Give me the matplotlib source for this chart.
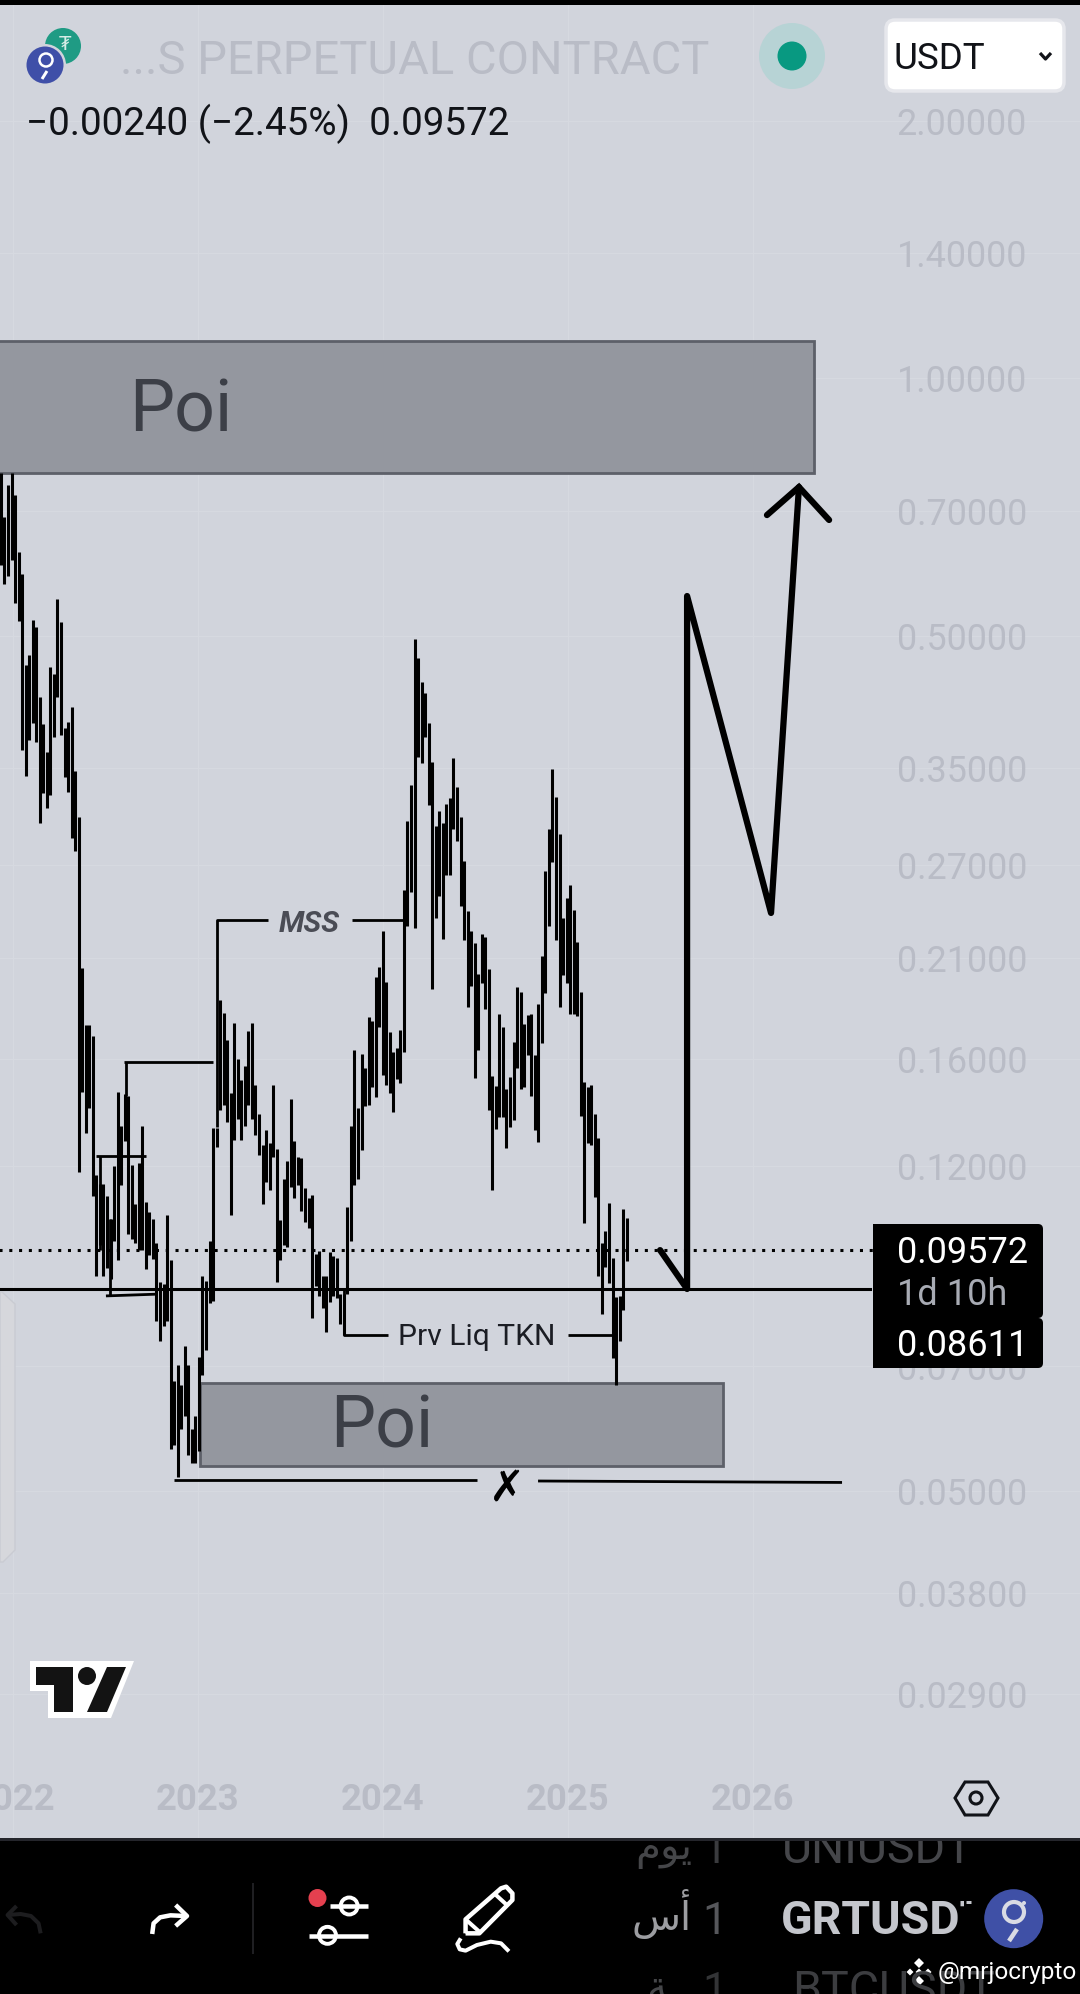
import matplotlib
matplotlib.use('Agg')
import numpy as np
import matplotlib.pyplot as plt
from matplotlib.patches import Rectangle, Circle, Polygon, FancyBboxPatch
from matplotlib.ticker import FixedLocator, FixedFormatter, NullLocator
from matplotlib.transforms import Bbox

plt.rcParams['font.family'] = ['Roboto', 'DejaVu Sans']

# weekly highs and lows, first bar is late 2021
first_bar = 2021.934
bars_per_year = 52.3
bar_high = [.776, .688, .7516, .776, .730, .6266, .591, .462, .475, .5226, .512, .4242, .3947, .366, .4594, .4516,
            .5522, .519, .3902, .3964, .4129, .3476, .3071, .2048, .1753, .1753, .1703, .1172, .1143, .1143, .1108,
            .1042, .1200, .1465, .1338, .1458, .1450, .1205, .1083, .1210, .1335, .1088, .1060, .1042, .0976, .0879,
            .0874, .1052, .0931, .0672, .0703, .0665, .0740, .0702, .0591, .0612, .0718, .0893, .0881, .0981, .1330,
            .1330, .1877, .1812, .1684, .1460, .1762, .1602, .1513, .1572, .1725, .1762, .1493, .1381, .1270, .1324,
            .1276, .1493, .1257, .1037, .1159, .1215, .1439, .1283, .1229, .1225, .1130, .1102, .1110, .0946, .0955,
            .0892, .0893, .0953, .0941, .0937, .0850, .0850, .1075, .1338, .1640, .1403,
            .1622, .1562, .1792, .1773, .1997, .205, .226, .1969, .1723, .1631, .1649, .1730, .2523, .3038, .3347,
            .4959, .471, .4417, .4288, .3959, .3560, .2998, .3121, .3018, .3181, .3232, .3600, .3328, .3071, .2728,
            .2384, .226, .2188, .2012, .2243, .2223, .2040, .1528, .1489, .1807, .1743, .1477, .1526, .1676, .1944,
            .1918, .1758, .1803, .1807, .1618, .1857, .2113, .2655, .2970, .3494, .3241, .2933, .2340, .2469, .2558,
            .2391, .2193, .1918, .1506, .1484, .1493, .1379, .1294, .0975, .1008, .1086, .0937, .0843, .0846, .1069,
            .1044]
bar_low = [.6046, .5758, .5876, .613, .546, .521, .3678, .343, .3778, .3959, .3757, .3025, .3275, .3146, .3258, .381,
           .4242, .383, .342, .3285, .2902, .2802, .1181, .1465, .1313, .1403, .1108, .0892, .0971, .0892, .0913,
           .0885, .0981, .0931, .1139, .1283, .0999, .0986, .0976, .0958, .0958, .0909, .0944, .0935, .0791, .0749,
           .0781, .0791, .0560, .0567, .0519, .0591, .0612, .0552, .0539, .0539, .0557, .0683, .0731, .0831, .0834,
           .1262, .1396, .1416, .1350, .1052, .1288, .1362, .1288, .1338, .1416, .1362, .1306, .1235, .1083, .1151,
           .1124, .1229, .0878, .0933, .0971, .0966, .1134, .1100, .1139, .1062, .1032, .1015, .0797, .0870, .0846,
           .0820, .0768, .0832, .0846, .0842, .0785, .0762, .0850, .0981, .1139, .1160,
           .1252, .1411, .1414, .1484, .1445, .1743, .1534, .1493, .1460, .1387, .1518, .1502, .1631, .2293, .2509,
           .2280, .3610, .3551, .3814, .3172, .1933, .2337, .2482, .2211, .2629, .2629, .2976, .2882, .2417, .2205,
           .1842, .1949, .1520, .164, .1965, .1832, .1395, .1124, .1327, .1369, .1369, .1259, .1333, .1357, .1562,
           .1477, .1484, .1618, .1449, .1323, .1279, .1671, .1912, .2287, .2719, .2205, .1842, .2006, .1965, .1807,
           .1807, .1798, .1373, .1029, .1276, .1269, .1103, .0893, .0805, .0914, .0875, .0716, .0665, .0750, .0815,
           .0929]

price_ticks = [2.0, 1.4, 1.0, 0.7, 0.5, 0.35, 0.27, 0.21, 0.16, 0.12, 0.07, 0.05, 0.038, 0.029]
year_ticks = [2022, 2023, 2024, 2025, 2026]
last_price = 0.09572
swept_low = 0.08611

# drawings on the chart (decimal year, price)
upper_poi = (2021.5, 2026.332, 0.7753, 1.106)
lower_poi = (2023.008, 2025.839, 0.0535, 0.0669)
forecast_x = [2025.499, 2025.645, 2025.645, 2026.099, 2026.250]
forecast_y = [0.0957, 0.0862, 0.5567, 0.2372, 0.7465]
head_x = [2026.077, 2026.250, 2026.413]
head_y = [0.6923, 0.7465, 0.6832]

BG = '#d1d4dc'
AXIS_TXT = '#b9bcc6'
INK = '#000000'

fig = plt.figure(figsize=(10.8, 19.94), dpi=100, facecolor='black')
ax = fig.add_axes([0, 156 / 1994, 1, (1838 - 5) / 1994], facecolor=BG)
ax.set_yscale('log')
ax.set_xlim(2021.929, 2027.770)
ax.set_ylim(0.01966, 2.733)
for s in ax.spines.values():
    s.set_visible(False)

ax.yaxis.tick_right()
ax.yaxis.set_major_locator(FixedLocator(price_ticks))
ax.yaxis.set_major_formatter(FixedFormatter(['%.5f' % p for p in price_ticks]))
ax.yaxis.set_minor_locator(NullLocator())
ax.xaxis.set_major_locator(FixedLocator(year_ticks))
ax.xaxis.set_major_formatter(FixedFormatter([str(y) for y in year_ticks]))
ax.tick_params(axis='y', length=0, pad=-132, labelsize=25.9, labelcolor=AXIS_TXT)
ax.tick_params(axis='x', length=0, pad=-40, labelsize=26.2, labelcolor=AXIS_TXT)
for lab in ax.get_xticklabels():
    lab.set_fontweight('bold')
ax.grid(True, color='#d6d9e0', lw=0.8, zorder=0)

# boxes
for (x0, x1, y0, y1), name_x, name_y in [(upper_poi, 2022.908, 0.9134), (lower_poi, 2023.995, 0.0593)]:
    ax.add_patch(Rectangle((x0, y0), x1 - x0, y1 - y0, fc='#94979f', ec='#5d6069', lw=2, zorder=2))
    ax.text(name_x, name_y, 'Poi', fontsize=51.5, color='#3c3f47', ha='center', va='center', zorder=4)

# weekly bars
bar_x = first_bar + np.arange(len(bar_high)) / bars_per_year
bars = ax.vlines(bar_x, bar_low, bar_high, color=INK, lw=2.2, zorder=3)
bars.set_capstyle('butt')

# levels
ax.plot([2021.9, 2026.634], [swept_low, swept_low], color=INK, lw=2.2, zorder=3)
ax.plot([2021.9, 2026.661], [last_price, last_price], color=INK, lw=2.2, ls=(0, (1, 2.2)), zorder=3)

# marked structure
thin = dict(color=INK, lw=2, zorder=3, solid_capstyle='butt')
ax.plot([2022.448, 2022.719], [0.1232, 0.1232], **thin)
ax.plot([2022.470, 2022.470], [0.1232, 0.0957], **thin)
ax.plot([2022.600, 2023.081], [0.1588, 0.1588], **thin)
ax.plot([2022.608, 2022.608], [0.1588, 0.1450], **thin)
ax.plot([2022.502, 2022.778], [0.0846, 0.0850], **thin)
ax.plot([2022.524, 2022.524], [0.1042, 0.0846], **thin)
ax.plot([2023.379, 2023.100, 2023.100], [0.2330, 0.2330, 0.1333], **thin)
ax.plot([2023.833, 2024.114], [0.2330, 0.2330], **thin)
ax.text(2023.600, 0.2305, 'MSS', fontsize=21.5, fontweight='bold', style='italic', color='#4a4c55',
        ha='center', va='center', zorder=4)
ax.plot([2023.790, 2023.790, 2024.028], [0.0861, 0.0762, 0.0762], **thin)
ax.plot([2025.001, 2025.239], [0.0762, 0.0762], **thin)
ax.text(2024.509, 0.0758, 'Prv Liq TKN', fontsize=21.6, color='#1b1d24', ha='center', va='center', zorder=4)
ax.plot([2022.870, 2024.509], [0.0515, 0.0515], **thin)
ax.plot([2024.839, 2026.483], [0.0514, 0.0512], **thin)
ax.text(2024.671, 0.0503, '\u2717', fontsize=31, fontweight='bold', family='DejaVu Sans', color=INK,
        ha='center', va='center', zorder=4)

# hand drawn arrow
ax.plot(forecast_x, forecast_y, color=INK, lw=4.5, solid_joinstyle='round', solid_capstyle='round', zorder=5)
ax.plot(head_x, head_y, color=INK, lw=4.5, solid_joinstyle='miter', solid_capstyle='round', zorder=5)

# app chrome, in screen pixels
ui = fig.add_axes([0, 0, 1, 1], facecolor='none')
ui.set_xlim(0, 1080)
ui.set_ylim(1994, 0)
ui.axis('off')


def box(x0, y0, x1, y1, **kw):
    ui.add_patch(Rectangle((x0, y0), x1 - x0, y1 - y0, **kw))


def line(xs, ys, color='white', lw=3, **kw):
    ui.plot(xs, ys, color=color, lw=lw * 0.72, solid_capstyle=kw.pop('cap', 'butt'), **kw)


def circle(cx, cy, r, **kw):
    ui.add_patch(Circle((cx, cy), r, **kw))


box(0, 0, 1080, 5, fc='black', ec='none')
box(0, 1838, 1080, 1841, fc='#24252b', ec='none')

# header
circle(63, 46, 18, fc='#1f9b84', ec='none')
ui.text(65, 44, '\u20ae', fontsize=14, color='#d5ece6', ha='center', va='center', family='DejaVu Sans')
circle(45, 65, 21, fc=BG, ec='none')
circle(45, 65, 18.5, fc='#3f4fa8', ec='none')
circle(46, 60, 6.5, fc='none', ec='white', lw=1.8)
line([42, 47], [79, 71], lw=3)
ui.text(120, 61, '...S PERPETUAL CONTRACT', fontsize=33.9, color=AXIS_TXT, ha='left', va='center')
circle(792, 56, 33, fc='#b7d3d5', ec='none')
circle(792, 56, 14.5, fc='#089981', ec='none')
ui.add_patch(FancyBboxPatch((886, 20), 178, 71, boxstyle='round,pad=0,rounding_size=9', fc='white',
                            ec='#e6e7ec', lw=2.5))
ui.text(894, 59, 'USDT', fontsize=26.5, color='#111318', ha='left', va='center')
line([1040, 1045.5, 1051], [53, 59, 53], color='#111318', lw=3.2)
ui.text(26, 124, '\u22120.00240 (\u22122.45%)  0.09572', fontsize=27.8, color='#111318', ha='left', va='center')

# price tags
ui.add_patch(FancyBboxPatch((873, 1224), 170, 94, boxstyle='round,pad=0,rounding_size=5', fc='black', ec='none'))
ui.add_patch(FancyBboxPatch((873, 1318), 170, 50, boxstyle='round,pad=0,rounding_size=5', fc='black', ec='none'))
box(873, 1224, 890, 1368, fc='black', ec='none')
ui.text(897, 1253, '0.09572', fontsize=26, color='white', ha='left', va='center')
ui.text(897, 1295, '1d 10h', fontsize=26, color='#a8abb4', ha='left', va='center')
ui.text(897, 1346, '0.08611', fontsize=26, color='white', ha='left', va='center')

# faint side panel
ui.add_patch(Polygon([(0, 1292), (2, 1292), (15, 1304), (15, 1550), (3, 1562), (0, 1562)], fc='#d6d7dc', ec='#c9cbd2',
                     lw=1))

# tradingview logo
ui.add_patch(Polygon([(30, 1661), (134, 1661), (111, 1718), (48, 1718), (48, 1691), (30, 1691)], fc='white', ec='none'))
ui.add_patch(Polygon([(36, 1667), (73, 1667), (73, 1712), (54, 1712), (54, 1685), (36, 1685)], fc='#131313', ec='none'))
circle(87, 1676, 9, fc='#131313', ec='none')
ui.add_patch(Polygon([(107, 1667), (126, 1667), (107, 1712), (87, 1712)], fc='#131313', ec='none'))

# settings hexagon
ui.add_patch(Polygon([(955, 1798), (965, 1782), (988, 1782), (998, 1798), (988, 1815), (965, 1815)], fc='none',
                     ec='#111318', lw=2.2))
circle(976, 1798, 6, fc='none', ec='#111318', lw=2.2)

# toolbar icons
sx = 1 / 2.904
sy = 1 / 3


def zx(vals):
    return [v * sx for v in vals]


def zy(vals):
    return [1830 + v * sy for v in vals]


line(zx([118, 112, 90, 60, 22]), zy([310, 280, 258, 252, 255]), color='#1d1d1f', lw=4)
line(zx([48, 22, 48]), zy([228, 255, 285]), color='#1d1d1f', lw=4)
line(zx([442, 446, 465, 495, 540]), zy([312, 280, 262, 256, 258]), lw=4.5)
line(zx([510, 543, 510]), zy([225, 258, 288]), lw=4.5)
line(zx([736, 736]), zy([160, 372]), color='#1f1f22', lw=2)
circle(922 * sx, 1830 + 204 * sy, 9, fc='#e5404f', ec='none')
line(zx([958, 1070]), zy([229, 229]), lw=4.5)
circle(1014 * sx, 1830 + 228 * sy, 8.5, fc='black', ec='white', lw=2.8)
line(zx([897, 1070]), zy([318, 318]), lw=4.5)
circle(951 * sx, 1830 + 316 * sy, 8.5, fc='black', ec='white', lw=2.8)
line(zx([1352, 1352, 1455, 1470, 1488, 1488, 1392, 1352]), zy([310, 268, 175, 170, 190, 210, 310, 310]), lw=4.5)
line(zx([1435, 1472]), zy([190, 225]), lw=4)
line(zx([1352, 1392]), zy([268, 305]), lw=4)
line(zx([1338, 1328, 1335, 1352, 1385, 1425, 1455, 1478]), zy([325, 342, 358, 362, 345, 335, 340, 364]), lw=4)

# symbol list, scrolled so rows are cut off
panel = Bbox([[0, 0], [1080, 153]])
rows = [('UNIUSDT', 782, 1863, 'normal', '#45464a', '#3a3b3e', '\ufee1\ufeee\ufef3', 692),
        ('GRTUSDT', 781, 1934, 'bold', '#c4c6cc', '#56575b', '\ufeb1\ufe83', 692),
        ('BTCUSDT', 792, 2004, 'normal', '#3c3d40', '#333436', '\ufe94', 668)]
for sym, sym_x, base, weight, col, numcol, word, word_x in rows:
    t = ui.text(sym_x, base, sym, fontsize=33.5, fontweight=weight, color=col, va='baseline')
    t.set_clip_box(panel if sym != 'GRTUSDT' else Bbox([[0, 0], [964, 153]]))
    t.set_clip_on(True)
    n = ui.text(715, base, '1', fontsize=31.5, color=numcol, ha='center', va='baseline')
    n.set_clip_box(panel)
    n.set_clip_on(True)
    a = ui.text(word_x, base - 4, word, fontsize=29, family='DejaVu Sans',
                color='#9c9da1' if sym == 'GRTUSDT' else '#454649', ha='right', va='baseline')
    a.set_clip_box(panel)
    a.set_clip_on(True)

line([966, 971], [1902, 1902], color='#c4c6cc', lw=3)
circle(1013.7, 1918.7, 29.5, fc='#3f50a6', ec='none')
circle(1014, 1912, 10, fc='none', ec='#d9dbe4', lw=3)
line([1009, 1017], [1941, 1929], color='#d9dbe4', lw=4.5)
circle(1024, 1903, 2, fc='#d9dbe4', ec='none')

# watermark
for cx, cy, r in [(919, 1963, 5), (919, 1981, 5), (910, 1972, 3.5), (928, 1972, 3.5), (919, 1972, 3.5)]:
    ui.add_patch(Polygon([(cx - r, cy), (cx, cy - r), (cx + r, cy), (cx, cy + r)], fc='white', ec='none'))
ui.text(938, 1972, '@mrjocrypto', fontsize=17.6, color='white', ha='left', va='center')

fig.savefig('out.png', dpi=100, facecolor='black')
